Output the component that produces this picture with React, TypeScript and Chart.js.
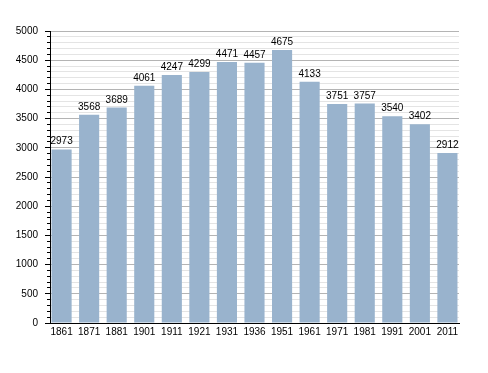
import React, { useEffect, useRef } from "react";
import { Chart, registerables } from "chart.js";

Chart.register(...registerables);

const years = ["1861", "1871", "1881", "1901", "1911", "1921", "1931", "1936", "1951", "1961", "1971", "1981", "1991", "2001", "2011"];
const population = [2973, 3568, 3689, 4061, 4247, 4299, 4471, 4457, 4675, 4133, 3751, 3757, 3540, 3402, 2912];
const yMax = 5000;
const yStep = 100;
const yLabelStep = 500;

const FONT = "'Liberation Sans', Arial, sans-serif";

const valueLabels = {
  id: "valueLabels",
  afterDatasetsDraw(chart: any) {
    const ctx = chart.ctx;
    const meta = chart.getDatasetMeta(0);
    ctx.save();
    ctx.font = `10px ${FONT}`;
    ctx.fillStyle = "#000";
    ctx.textAlign = "center";
    ctx.textBaseline = "alphabetic";
    meta.data.forEach((bar: any, i: number) => {
      ctx.fillText(String(population[i]), bar.x, bar.y - 5);
    });
    ctx.restore();
  },
};

export default function App() {
  const ref = useRef<HTMLCanvasElement>(null);
  useEffect(() => {
    document.body.style.margin = "0";
    const chart = new Chart(ref.current!, {
      type: "bar",
      data: {
        datasets: [
          {
            data: population.map((v, i) => ({ x: i, y: v })),
            backgroundColor: "rgb(153,179,205)",
            borderWidth: 0,
            categoryPercentage: 1,
            barPercentage: 0.73,
          },
        ],
      },
      options: {
        responsive: false,
        animation: false,
        devicePixelRatio: 1,
        layout: { padding: { top: 31, right: 29, left: 0, bottom: 0 } },
        plugins: { legend: { display: false }, tooltip: { enabled: false } },
        scales: {
          x: {
            type: "linear",
            offset: false,
            min: -0.42,
            max: years.length - 1 + 0.42,
            grid: { display: false, drawTicks: false, offset: false },
            border: { display: true, color: "#000", width: 1 },
            afterBuildTicks: (scale: any) => {
              scale.ticks = years.map((_, i) => ({ value: i }));
            },
            afterFit: (scale: any) => {
              scale.height = 50;
            },
            ticks: {
              autoSkip: false,
              maxRotation: 0,
              padding: 3,
              color: "#000",
              font: { family: FONT, size: 10 },
              callback: (v: any) => years[v as number] ?? "",
            },
          },
          y: {
            min: 0,
            max: yMax,
            afterFit: (scale: any) => {
              scale.width = 50;
            },
            border: { display: true, color: "#000", width: 1 },
            grid: {
              color: (c: any) => (c.tick && c.tick.value % yLabelStep === 0 ? "#b4b4b4" : "#e4e4e4"),
              tickColor: "#000",
              tickLength: 5,
              tickBorderDash: (c: any) => (c.tick && c.tick.value % yLabelStep === 0 ? [] : [0, 2, 3, 10]),
            },
            ticks: {
              stepSize: yStep,
              autoSkip: false,
              padding: 7,
              color: "#000",
              font: { family: FONT, size: 10 },
              callback: (v: any) => ((v as number) % yLabelStep === 0 ? String(v) : ""),
            },
          },
        },
      },
      plugins: [valueLabels],
    } as any);
    return () => chart.destroy();
  }, []);
  return (
    <div style={{ width: 488, height: 373 }}>
      <canvas ref={ref} width={488} height={373} />
    </div>
  );
}
